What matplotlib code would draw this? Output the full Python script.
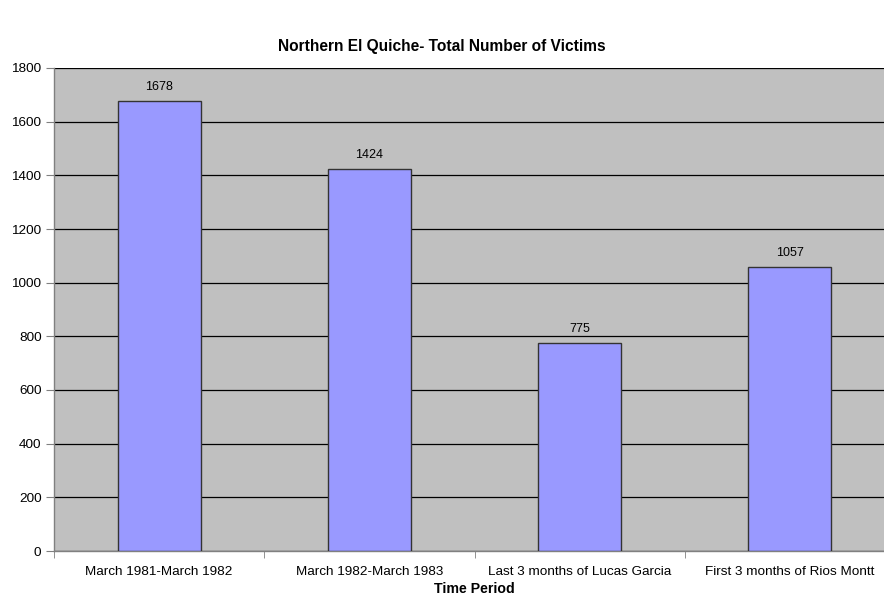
import matplotlib.pyplot as plt
import numpy as np

plt.rcParams['font.family'] = ['Liberation Sans', 'DejaVu Sans']

periods = ['March 1981-March 1982', 'March 1982-March 1983',
           'Last 3 months of Lucas Garcia', 'First 3 months of Rios Montt']
victims = [1678, 1424, 775, 1057]
y_ticks = [0, 200, 400, 600, 800, 1000, 1200, 1400, 1600, 1800]

fig = plt.figure(figsize=(8.84, 5.97), dpi=100)
# plot area runs a little past the right edge of the figure
ax = fig.add_axes([54 / 884, 46 / 597, 841 / 884, 483 / 597])
ax.set_facecolor('#c0c0c0')

x = np.arange(len(periods))
bars = ax.bar(x, victims, width=0.395, color='#9999ff', edgecolor='#333333',
              linewidth=1, zorder=3)
for b, v in zip(bars, victims):
    ax.text(b.get_x() + b.get_width() / 2, v + 30, str(v), ha='center',
            va='bottom', fontsize=9)

ax.set_xlim(-0.5, len(periods) - 0.5)
ax.set_ylim(0, 1800)
ax.set_yticks(y_ticks)
ax.yaxis.grid(True, color='black', linewidth=0.9, zorder=1)
ax.set_axisbelow(True)

ax.set_xticks(x)
ax.set_xticklabels(periods, fontsize=9.7)
ax.tick_params(axis='x', length=0, pad=11)
ax.set_xticks(np.arange(len(periods) + 1) - 0.5, minor=True)
ax.tick_params(axis='x', which='minor', length=5, color='#808080')
ax.tick_params(axis='y', labelsize=9.7, length=6, color='#808080', pad=3)

for side in ['top', 'right']:
    ax.spines[side].set_visible(False)
for side in ['left', 'bottom']:
    ax.spines[side].set_color('#808080')
    ax.spines[side].set_linewidth(1)

ax.set_xlabel('Time Period', fontsize=10.2, fontweight='bold', labelpad=3)
fig.text(0.5, 1 - 47 / 597, 'Northern El Quiche- Total Number of Victims',
         ha='center', va='center', fontsize=11.2, fontweight='bold')

fig.savefig('out.png', dpi=100)
